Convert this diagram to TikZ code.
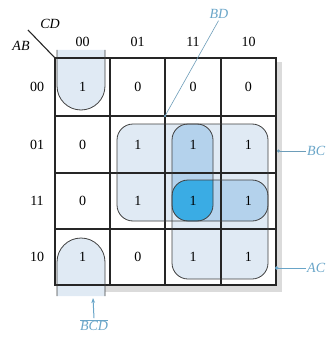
\documentclass[tikz,border=0pt]{standalone}
\usepackage{fontspec}
\setmainfont{Liberation Serif}
\usetikzlibrary{arrows.meta,calc}

\definecolor{loopfill}{RGB}{224,234,244}
\definecolor{loopmid}{RGB}{180,210,236}
\definecolor{loopdark}{RGB}{58,172,228}
\definecolor{tagcol}{RGB}{105,165,200}

\begin{document}
\begin{tikzpicture}[
    x=1pt, y=-1pt,
    font=\fontsize{14}{16}\selectfont,
    val/.style   ={inner sep=0pt},
    kgrid/.style ={line width=1.3pt, black!85},
    kloop/.style ={draw=black!75, line width=0.8pt},
    tag/.style   ={font=\fontsize{14}{16}\selectfont\itshape, text=tagcol, inner sep=1pt},
    lead/.style  ={draw=tagcol!80!gray, line width=0.6pt},
]
\useasboundingbox (0,0) rectangle (334,337);

% ------------------------------------------------------------
% loop fills (BD, BC, AC) and their overlaps
% ------------------------------------------------------------
\fill[black!14] (59,62) rectangle (282,292);
\fill[white] (55,58) rectangle (276,285);

\fill[loopfill, rounded corners=16pt] (117,124) rectangle (213,221);
\fill[loopfill, rounded corners=16pt] (172,124) rectangle (268,221);
\fill[loopfill, rounded corners=16pt] (172,180) rectangle (268,279);
\begin{scope}
  \clip[rounded corners=16pt] (172,124) rectangle (268,221);
  \fill[loopmid, rounded corners=16pt] (117,124) rectangle (213,221);
  \fill[loopmid, rounded corners=16pt] (172,180) rectangle (268,279);
  \clip[rounded corners=16pt] (117,124) rectangle (213,221);
  \fill[loopdark, rounded corners=16pt] (172,180) rectangle (268,279);
\end{scope}

% corner loops (wrap round, BCD)
\fill[loopfill] (57,50) -- (57,86) arc (180:0:24) -- (105,50) -- cycle;
\fill[loopfill] (57,296) -- (57,262) arc (180:360:24) -- (105,296) -- cycle;

% ------------------------------------------------------------
% map grid
% ------------------------------------------------------------
\draw[kgrid] (55,58) rectangle (276,285);
\foreach \gx in {110,165,221} \draw[kgrid] (\gx,58) -- (\gx,285);
\foreach \gy in {116,173,229} \draw[kgrid] (55,\gy) -- (276,\gy);
\draw[kgrid, line width=1.1pt] (28,30) -- (55,58);

% loop outlines
\draw[kloop, rounded corners=16pt] (117,124) rectangle (213,221);
\draw[kloop, rounded corners=16pt] (172,124) rectangle (268,221);
\draw[kloop, rounded corners=16pt] (172,180) rectangle (268,279);
\draw[kloop] (57,50) -- (57,86) arc (180:0:24) -- (105,50);
\draw[kloop] (57,296) -- (57,262) arc (180:360:24) -- (105,296);

% ------------------------------------------------------------
% headings and cell values
% ------------------------------------------------------------
\node (cd) at (50,24) {\itshape CD};
\node (ab) at (21,46) {\itshape AB};

\node (col0) at (82.5,42)  {00};
\node (col1) at (137.5,42) {01};
\node (col2) at (193,42)   {11};
\node (col3) at (248.5,42) {10};

\foreach \r/\ry/\lab/\vals in {0/87/00/{1,0,0,0}, 1/144.5/01/{0,1,1,1},
                               2/201/11/{0,1,1,1}, 3/257/10/{1,0,1,1}} {
  \node (row\r) at (37,\ry) {\lab};
  \foreach \v [count=\c from 0] in \vals {
    \pgfmathsetmacro{\cx}{82.5+55.3*\c}
    \node[val] (v-\r-\c) at (\cx,\ry) {\v};
  }
}

% ------------------------------------------------------------
% term labels
% ------------------------------------------------------------
\node[tag] (bd) at (219,14) {BD};
\coordinate (bdtip) at (165,116);
\draw[lead, shorten <=1pt] (bd.south) -- (bdtip);
\fill[tagcol!80!gray] (bdtip) circle (1.3pt);

\node[tag, anchor=west] (bc) at (306,151) {BC};
\coordinate (bctip) at (277,151);
\draw[lead, -{Circle[length=3pt]}] (bc.west) -- (bctip);

\node[tag, anchor=west] (ac) at (306,268) {AC};
\coordinate (actip) at (275,268);
\draw[lead, draw=tagcol, -{Circle[length=3.5pt]}] (ac.west) -- (actip);

\node[tag] (bcd) at (94,325)
    {$\overline{\textit{B}}\overline{\textit{C}}\overline{\textit{D}}$};
\coordinate (bcdtip) at (93,298);
\draw[lead, draw=tagcol, line width=1pt, -{Stealth[length=5pt]}] (bcd.north) -- (bcdtip);

\end{tikzpicture}
\end{document}
